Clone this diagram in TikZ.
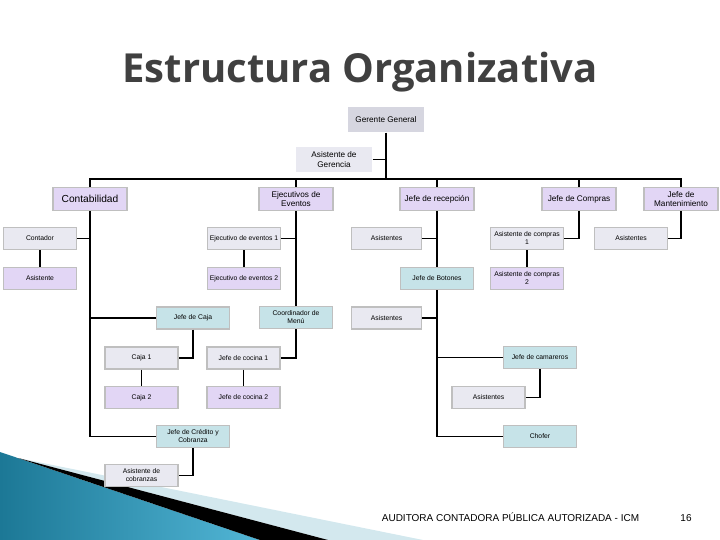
\documentclass[tikz,border=0pt]{standalone}
\usepackage{fontspec}
\setmainfont{Liberation Sans}
\newfontfamily\titlefont{Open Sans}
\definecolor{boxgrey}{HTML}{E9E9F1}
\definecolor{boxlav}{HTML}{E2D6F5}
\definecolor{boxteal}{HTML}{C6E3E8}
\definecolor{topgrey}{HTML}{D6D6E0}
\definecolor{titlegrey}{HTML}{404040}
\definecolor{decoteal}{HTML}{1C7896}
\definecolor{decolight}{HTML}{52B6D6}
\definecolor{decostripe}{HTML}{D3E8EE}
\begin{document}
\begin{tikzpicture}[
  x=1pt, y=-1pt,
  line width=1.2pt,
  topbox/.style={fill=topgrey, minimum width=76pt, minimum height=25pt,
                 inner sep=1pt, align=center, font=\fontsize{8.2}{9.5}\selectfont},
  box/.style={draw=black!25, line width=1.1pt, minimum width=74pt,
              minimum height=23pt, inner sep=1pt, align=center,
              font=\fontsize{8.2}{9.5}\selectfont},
  subbox/.style={box, minimum width=73pt, minimum height=22pt,
                 font=\fontsize{6.8}{8}\selectfont}
]
\useasboundingbox (0,0) rectangle (720,540);

% bottom corner decoration
\shade[left color=decoteal, right color=decolight]
  (0,452) -- (260,540) -- (0,540) -- cycle;
\fill[decostripe] (18,458) -- (423,540) -- (328,540) -- cycle;
\fill[black] (18,458) -- (328,540) -- (260,540) -- cycle;

\node[font=\titlefont\fontsize{40}{44}\selectfont\bfseries, text=titlegrey,
      anchor=base] (title) at (360,82.7) {Estructura Organizativa};

% top level
\node[topbox] (gerente) at (386,119.5) {Gerente General};
\node[topbox, fill=boxgrey] (asistgerencia) at (334,159.5) {Asistente de\\Gerencia};

\node[box, fill=boxlav, font=\fontsize{10.2}{12}\selectfont] (contabilidad) at (90,199) {Contabilidad};
\node[box, fill=boxlav] (ejecutivos) at (296,199) {Ejecutivos de\\Eventos};
\node[box, fill=boxlav] (recepcion) at (437,199) {Jefe de recepción};
\node[box, fill=boxlav] (compras) at (579,199) {Jefe de Compras};
\node[box, fill=boxlav] (mantenimiento) at (681,199) {Jefe de\\Mantenimiento};

% second level
\node[subbox, fill=boxgrey] (contador) at (40,238.5) {Contador};
\node[subbox, fill=boxlav] (asistcont) at (40,278.5) {Asistente};
\node[subbox, fill=boxgrey] (ejev1) at (244,238.5) {Ejecutivo de eventos 1};
\node[subbox, fill=boxlav] (ejev2) at (244,278.5) {Ejecutivo de eventos 2};
\node[subbox, fill=boxgrey, minimum width=70pt] (asistrec) at (386.5,238.5) {Asistentes};
\node[subbox, fill=boxteal] (botones) at (437,278.5) {Jefe de Botones};
\node[subbox, fill=boxgrey] (asistcomp1) at (527,238.5) {Asistente de compras\\1};
\node[subbox, fill=boxlav] (asistcomp2) at (527,278.5) {Asistente de compras\\2};
\node[subbox, fill=boxgrey] (asistman) at (631,238.5) {Asistentes};

% third level
\node[subbox, fill=boxteal] (jefecaja) at (193,318) {Jefe de Caja};
\node[subbox, fill=boxteal] (coordinador) at (296,317.5) {Coordinador de\\Menú};
\node[subbox, fill=boxgrey, minimum width=70pt] (asistbot) at (386.5,318) {Asistentes};
\node[subbox, fill=boxgrey] (caja1) at (141.5,358) {Caja 1};
\node[subbox, fill=boxgrey] (cocina1) at (243.5,358) {Jefe de cocina 1};
\node[subbox, fill=boxteal] (camareros) at (540,357.5) {Jefe de camareros};
\node[subbox, fill=boxlav] (caja2) at (141.5,397.5) {Caja 2};
\node[subbox, fill=boxlav] (cocina2) at (243.5,397.5) {Jefe de cocina 2};
\node[subbox, fill=boxgrey] (asistcam) at (488.5,397.5) {Asistentes};
\node[subbox, fill=boxteal] (credito) at (193,436.5) {Jefe de Crédito y\\Cobranza};
\node[subbox, fill=boxteal] (chofer) at (540,436.5) {Chofer};
\node[subbox, fill=boxgrey] (asistcobranzas) at (141.5,475.5) {Asistente de\\cobranzas};

\coordinate (bus) at (386,179);

% connectors
\draw (gerente) -- (bus);
\draw (asistgerencia.east) -- (asistgerencia.east -| gerente.south);
\draw (contabilidad.north) |- (bus) -| (mantenimiento.north);
\draw (ejecutivos.north) -- (ejecutivos.north |- bus);
\draw (recepcion.north) -- (recepcion.north |- bus);
\draw (compras.north) -- (compras.north |- bus);

\draw (contabilidad) |- (credito);
\draw (contador.east) -- (contador.east -| contabilidad.south);
\draw (jefecaja.west) -- (jefecaja.west -| contabilidad.south);
\draw (contador) -- (asistcont);
\draw (jefecaja) |- (caja1);
\draw (caja1) -- (caja2);
\draw (credito) |- (asistcobranzas);

\draw (ejecutivos) -- (coordinador);
\draw (ejev1.east) -- (ejev1.east -| ejecutivos.south);
\draw (ejev1) -- (ejev2);
\draw (coordinador) |- (cocina1);
\draw (cocina1) -- (cocina2);

\draw (recepcion) -- (botones);
\draw (botones) |- (chofer);
\draw (asistrec.east) -- (asistrec.east -| recepcion.south);
\draw (asistbot.east) -- (asistbot.east -| botones.south);
\draw (camareros.west) -- (camareros.west -| botones.south);
\draw (camareros) |- (asistcam);

\draw (compras) |- (asistcomp1);
\draw (asistcomp1) -- (asistcomp2);
\draw (mantenimiento) |- (asistman);

% footer
\node[font=\fontsize{10}{12}\selectfont] (footer) at (510.5,517) {AUDITORA CONTADORA PÚBLICA AUTORIZADA - ICM};
\node[font=\fontsize{10}{12}\selectfont] (pagenum) at (686,518) {16};
\end{tikzpicture}
\end{document}
